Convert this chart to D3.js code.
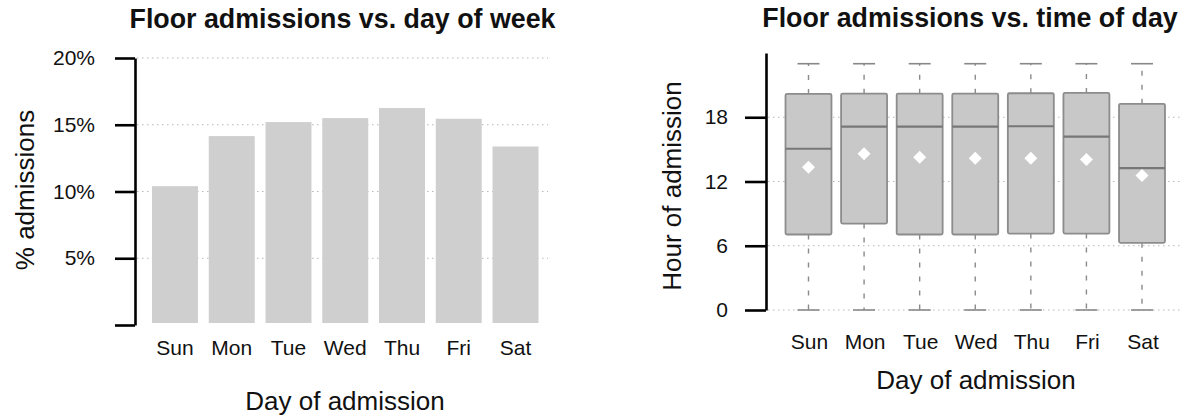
<!DOCTYPE html>
<html>
<head>
<meta charset="utf-8">
<script src="https://cdn.jsdelivr.net/npm/d3@7"></script>
<style>
  html, body { margin: 0; padding: 0; background: #fff; }
  svg { display: block; font-family: "Liberation Sans", Arial, Helvetica, sans-serif; }
</style>
</head>
<body>
<svg id="chart" width="1188" height="417"></svg>
<script>
// Day-of-week categories shared by both panels
const days = ["Sun", "Mon", "Tue", "Wed", "Thu", "Fri", "Sat"];

// Left panel: share of floor admissions per weekday (%)
const admitPct = [10.4, 14.15, 15.2, 15.5, 16.25, 15.45, 13.37];
const pctTicks = [0, 5, 10, 15, 20];

// Right panel: distribution of admission hour per weekday
const whiskerLow  = [0, 0, 0, 0, 0, 0, 0];
const quartile1   = [7.05, 8.07, 7.05, 7.05, 7.14, 7.14, 6.27];
const medianHour  = [15.06, 17.13, 17.13, 17.13, 17.16, 16.2, 13.25];
const quartile3   = [20.18, 20.2, 20.2, 20.2, 20.24, 20.27, 19.25];
const whiskerHigh = [23, 23, 23, 23, 23, 23, 23];
const meanHour    = [13.34, 14.59, 14.27, 14.18, 14.18, 14.06, 12.57];
const hourTicks = [0, 6, 12, 18];

const svg = d3.select("#chart");
const FONT_TICK = 21, FONT_AXIS = 26, FONT_TITLE = 26.8;

function text(g, x, y, str, opts = {}) {
  const t = g.append("text")
    .attr("x", x).attr("y", y)
    .attr("text-anchor", opts.anchor || "middle")
    .attr("font-size", opts.size || FONT_TICK)
    .attr("font-weight", opts.weight || "normal")
    .attr("fill", "#111")
    .text(str);
  if (opts.rotate) t.attr("transform", `rotate(${opts.rotate},${x},${y})`);
  if (opts.baseline) t.attr("dominant-baseline", opts.baseline);
  return t;
}

function styleAxis(g) {
  g.select(".domain").attr("stroke", "#000").attr("stroke-width", 2.6);
  g.selectAll(".tick line").attr("stroke", "#000").attr("stroke-width", 2.6);
  g.selectAll(".tick text")
    .attr("font-size", FONT_TICK)
    .attr("font-family", "Liberation Sans, Arial, sans-serif")
    .attr("fill", "#111");
}

// ---------- Left panel: bar chart ----------
{
  const g = svg.append("g");
  const y = d3.scaleLinear().domain([0, 20]).range([325, 58]);
  const x = d3.scaleBand().domain(days).range([146.6, 543.9])
    .paddingInner(0.19).paddingOuter(0.095);

  // dotted reference lines
  g.append("g").selectAll("line").data(pctTicks.filter(d => d > 0)).join("line")
    .attr("x1", 137).attr("x2", 548)
    .attr("y1", d => y(d)).attr("y2", d => y(d))
    .attr("stroke", "#b8b8b8").attr("stroke-width", 1.2)
    .attr("stroke-dasharray", "1.5,3.5");

  g.append("g").selectAll("rect").data(days).join("rect")
    .attr("x", d => x(d))
    .attr("width", x.bandwidth())
    .attr("y", (d, i) => y(admitPct[i]))
    .attr("height", (d, i) => y(0) - y(admitPct[i]) - 2)
    .attr("fill", "#cfcfcf");

  const ax = g.append("g").attr("transform", "translate(135,0)")
    .call(d3.axisLeft(y).tickValues(pctTicks).tickSize(20).tickSizeOuter(0).tickPadding(20)
      .tickFormat(d => d === 0 ? "" : d + "%"));
  styleAxis(ax);

  days.forEach(d => text(g, x(d) + x.bandwidth() / 2, 355, d));
  text(g, 345, 410, "Day of admission", { size: FONT_AXIS });
  text(g, 25, 190, "% admissions", { size: FONT_AXIS, rotate: -90, baseline: "central" });
  text(g, 342.5, 28, "Floor admissions vs. day of week", { size: FONT_TITLE, weight: "bold" });
}

// ---------- Right panel: box plots ----------
{
  const g = svg.append("g");
  const y = d3.scaleLinear().domain([0, 24]).range([310, 53]);
  const x = d3.scaleBand().domain(days).range([780.7, 1169.8])
    .paddingInner(0.173).paddingOuter(0.0865);

  g.append("g").selectAll("line").data(hourTicks).join("line")
    .attr("x1", 768).attr("x2", 1182)
    .attr("y1", d => y(d)).attr("y2", d => y(d))
    .attr("stroke", "#b8b8b8").attr("stroke-width", 1.2)
    .attr("stroke-dasharray", "1.5,3.5");

  const boxes = g.append("g").selectAll("g").data(days).join("g");
  const cx = d => x(d) + x.bandwidth() / 2;

  // dashed whiskers
  boxes.append("line")
    .attr("x1", cx).attr("x2", cx)
    .attr("y1", (d, i) => y(quartile3[i])).attr("y2", (d, i) => y(whiskerHigh[i]))
    .attr("stroke", "#8a8a8a").attr("stroke-width", 1.4).attr("stroke-dasharray", "5,9");
  boxes.append("line")
    .attr("x1", cx).attr("x2", cx)
    .attr("y1", (d, i) => y(quartile1[i])).attr("y2", (d, i) => y(whiskerLow[i]))
    .attr("stroke", "#8a8a8a").attr("stroke-width", 1.4).attr("stroke-dasharray", "5,9");
  // whisker caps
  [whiskerHigh, whiskerLow].forEach(arr => {
    boxes.append("line")
      .attr("x1", d => cx(d) - 11).attr("x2", d => cx(d) + 11)
      .attr("y1", (d, i) => y(arr[i])).attr("y2", (d, i) => y(arr[i]))
      .attr("stroke", "#888").attr("stroke-width", 1.6);
  });

  boxes.append("rect")
    .attr("x", d => x(d))
    .attr("width", x.bandwidth())
    .attr("y", (d, i) => y(quartile3[i]))
    .attr("height", (d, i) => y(quartile1[i]) - y(quartile3[i]))
    .attr("rx", 1.5)
    .attr("fill", "#c8c8c8")
    .attr("stroke", "#8c8c8c").attr("stroke-width", 1.8);

  boxes.append("line")
    .attr("x1", d => x(d)).attr("x2", d => x(d) + x.bandwidth())
    .attr("y1", (d, i) => y(medianHour[i])).attr("y2", (d, i) => y(medianHour[i]))
    .attr("stroke", "#777").attr("stroke-width", 2.2);

  const r = 6.5;
  boxes.append("path")
    .attr("d", (d, i) => {
      const px = cx(d), py = y(meanHour[i]);
      return `M${px},${py - r}L${px + r},${py}L${px},${py + r}L${px - r},${py}Z`;
    })
    .attr("fill", "#fff");

  const ax = g.append("g").attr("transform", "translate(766,0)")
    .call(d3.axisLeft(y).tickValues(hourTicks).tickSize(21).tickSizeOuter(0).tickPadding(17));
  styleAxis(ax);

  days.forEach(d => text(g, cx(d) + 1, 349, d));
  text(g, 976, 389, "Day of admission", { size: FONT_AXIS });
  text(g, 672, 186, "Hour of admission", { size: FONT_AXIS, rotate: -90, baseline: "central" });
  text(g, 970, 27, "Floor admissions vs. time of day", { size: FONT_TITLE, weight: "bold" });
}
</script>
</body>
</html>
